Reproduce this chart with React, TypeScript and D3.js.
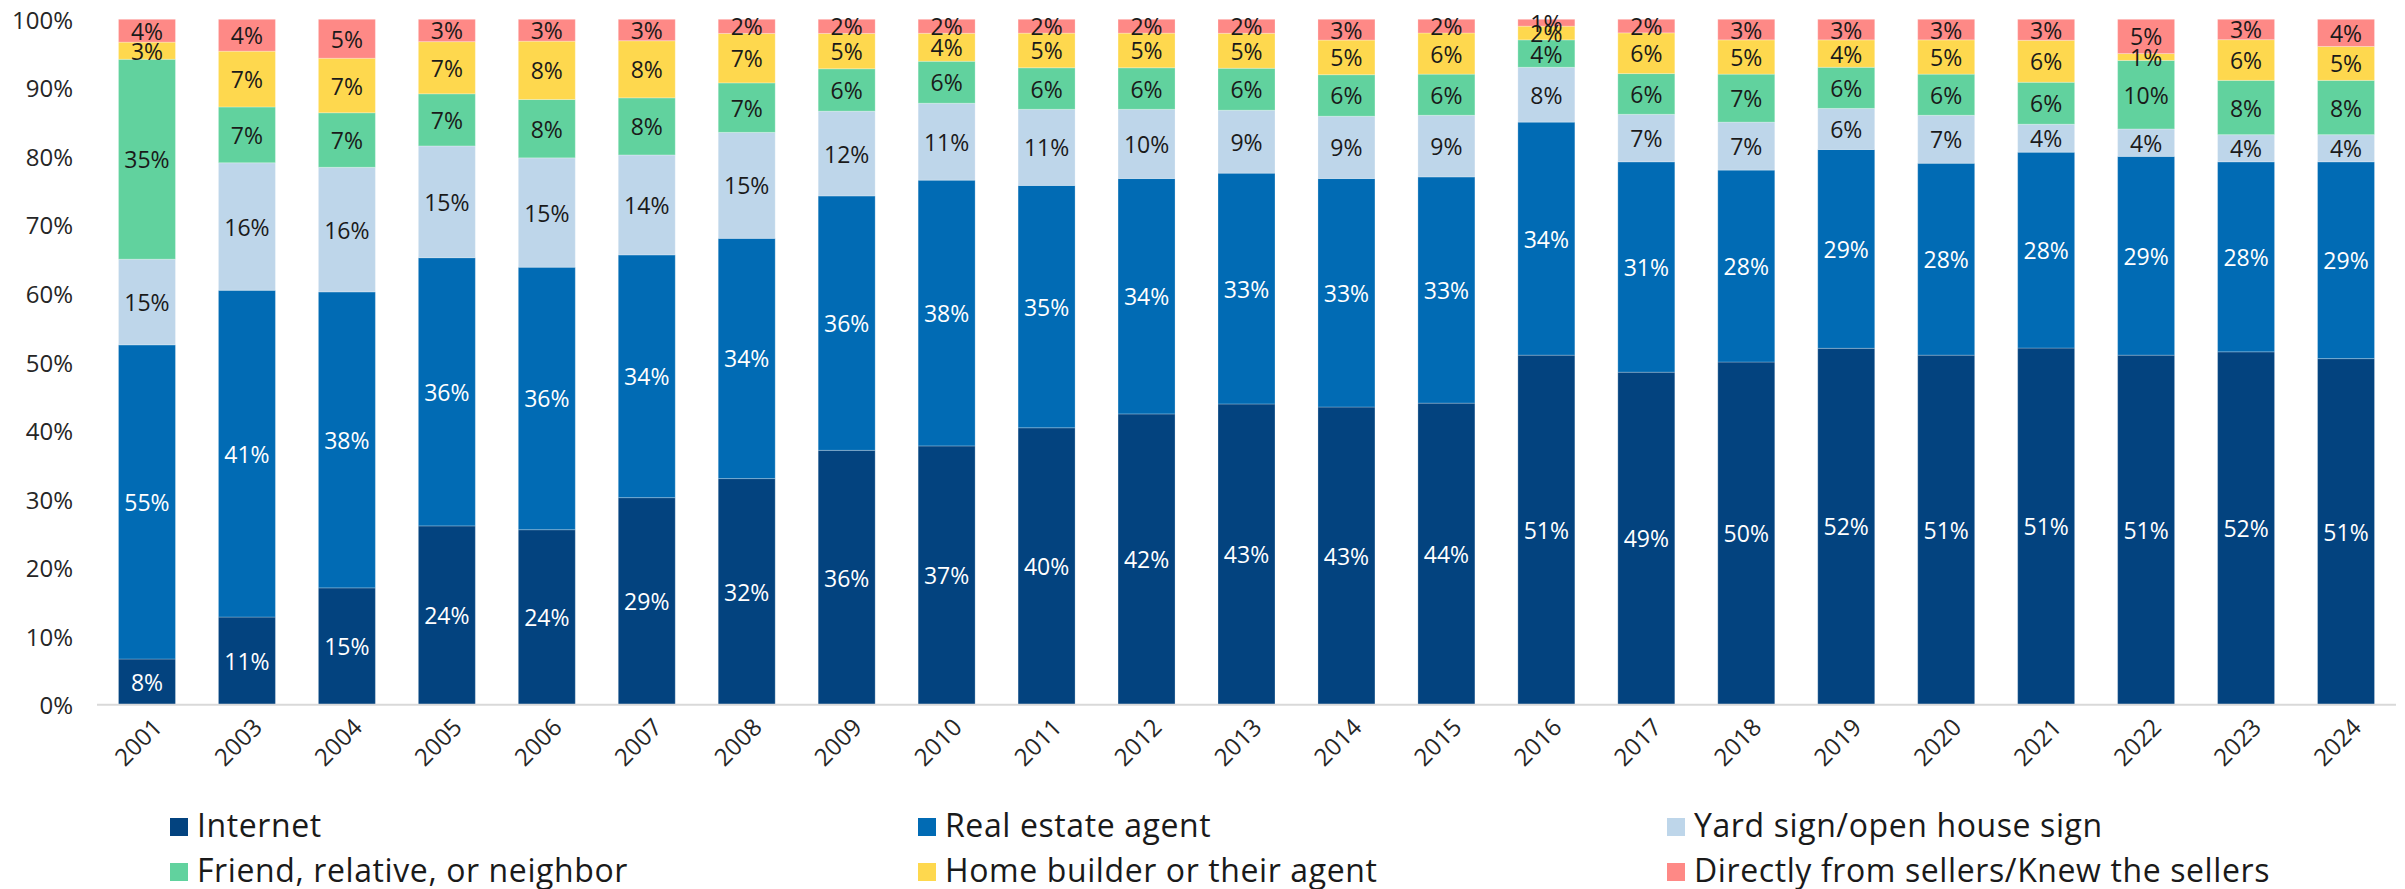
import React from "react";
import * as d3 from "d3";

const years = ["2001","2003","2004","2005","2006","2007","2008","2009","2010","2011","2012","2013","2014","2015","2016","2017","2018","2019","2020","2021","2022","2023","2024"];
const seriesNames = ["Internet","Real estate agent","Yard sign/open house sign","Friend, relative, or neighbor","Home builder or their agent","Directly from sellers/Knew the sellers"];
const internet = [8,11,15,24,24,29,32,36,37,40,42,43,43,44,51,49,50,52,51,51,51,52,51];
const agent = [55,41,38,36,36,34,34,36,38,35,34,33,33,33,34,31,28,29,28,28,29,28,29];
const yardSign = [15,16,16,15,15,14,15,12,11,11,10,9,9,9,8,7,7,6,7,4,4,4,4];
const friend = [35,7,7,7,8,8,7,6,6,6,6,6,6,6,4,6,7,6,6,6,10,8,8];
const builder = [3,7,7,7,8,8,7,5,4,5,5,5,5,6,2,6,5,4,5,6,1,6,5];
const direct = [4,4,5,3,3,3,2,2,2,2,2,2,3,2,1,2,3,3,3,3,5,3,4];
const yTicks = [0,0.1,0.2,0.3,0.4,0.5,0.6,0.7,0.8,0.9,1];

const colors = ["#03437f","#016bb4","#bed6ea","#61d29e","#fed84e","#fe8986"];
const labelColors = ["#ffffff","#ffffff","#1a1a1a","#1a1a1a","#1a1a1a","#1a1a1a"];
const FONT = "'Open Sans', sans-serif";

export default function App() {
  const W = 2405, H = 889;
  const seriesData = [internet, agent, yardSign, friend, builder, direct];
  const rows = years.map((y, i) => {
    const r: any = { year: y };
    seriesNames.forEach((s, k) => (r[s] = seriesData[k][i]));
    return r;
  });
  const stack = d3.stack<any>().keys(seriesNames).offset(d3.stackOffsetExpand);
  const stacked = stack(rows);

  const x = d3.scaleBand<string>().domain(years).range([97, 2396]).paddingInner(0.43).paddingOuter(0.215);
  const y = d3.scaleLinear().domain([0, 1]).range([704.7, 19.3]);
  const bw = x.bandwidth();

  const legendCols = [170, 918, 1667];
  const legendRows = [837, 882];

  return (
    <svg width={W} height={H} style={{ position: "absolute", left: 0, top: 0, background: "#fff" }} fontFamily={FONT}>
      {stacked.map((layer, k) => (
        <g key={k}>
          {layer.map((d, i) => (
            <rect key={i} x={x(years[i])} y={y(d[1])} width={bw} height={Math.max(0, y(d[0]) - y(d[1]))}
              fill={colors[k]} stroke="rgba(255,255,255,0.25)" strokeWidth={1} />
          ))}
        </g>
      ))}
      {stacked.map((layer, k) => (
        <g key={"l" + k}>
          {layer.map((d, i) => (
            <text key={i} x={(x(years[i]) as number) + bw / 2} y={(y(d[0]) + y(d[1])) / 2}
              textAnchor="middle" dominantBaseline="central" fontSize={23} fill={labelColors[k]}>
              {seriesData[k][i] + "%"}
            </text>
          ))}
        </g>
      ))}
      <line x1={97} x2={2396} y1={y(0)} y2={y(0)} stroke="#d9d9d9" strokeWidth={2} />
      {yTicks.map((t) => (
        <text key={t} x={73} y={y(t)} textAnchor="end" dominantBaseline="central" fontSize={24} fill="#262626">
          {Math.round(t * 100) + "%"}
        </text>
      ))}
      {years.map((yr) => {
        const cx = (x(yr) as number) + bw / 2 + 10;
        const cy = 722;
        return (
          <text key={yr} transform={`translate(${cx},${cy}) rotate(-45)`} textAnchor="end" dominantBaseline="central"
            fontSize={24} fill="#262626">{yr}</text>
        );
      })}
      {seriesNames.map((s, k) => {
        const lx = legendCols[k % 3];
        const ly = legendRows[Math.floor(k / 3)];
        return (
          <g key={s}>
            <rect x={lx} y={ly - 19} width={18} height={18} fill={colors[k]} />
            <text x={lx + 27} y={ly} fontSize={32} letterSpacing={0.6} fill="#1a1a1a">{s}</text>
          </g>
        );
      })}
    </svg>
  );
}
